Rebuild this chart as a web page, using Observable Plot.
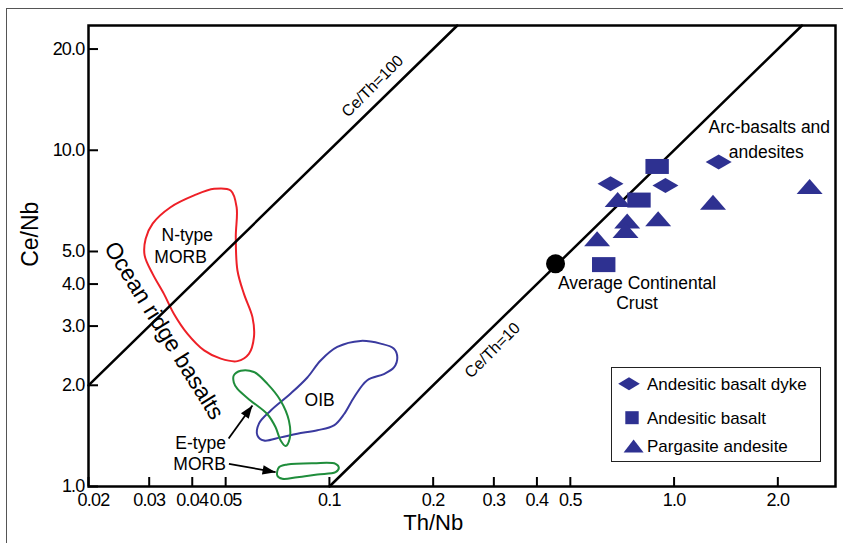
<!DOCTYPE html>
<html><head><meta charset="utf-8">
<script src="https://cdn.jsdelivr.net/npm/d3@7"></script>
<script src="https://cdn.jsdelivr.net/npm/@observablehq/plot@0.6"></script>
<style>
body{margin:0;background:#fff;}
#wrap{position:relative;width:843px;height:543px;overflow:hidden;font-family:"Liberation Sans",Arial,Helvetica,sans-serif;}
#wrap svg{display:block;}
#border{position:absolute;left:6px;top:8px;width:900px;height:600px;border:1.5px solid #555;pointer-events:none;}
#legend{position:absolute;left:611px;top:367px;width:208px;height:93px;border:1.5px solid #222;background:#fff;}
</style></head><body><div id="wrap"></div>
<script>
// ---- axis ticks ----
const xTicks = [0.02, 0.03, 0.04, 0.05, 0.1, 0.2, 0.3, 0.4, 0.5, 1, 2];
const xTickLabels = ["0.02", "0.03", "0.04", "0.05", "0.1", "0.2", "0.3", "0.4", "0.5", "1.0", "2.0"];
const yTicks = [1, 2, 3, 4, 5, 10, 20];
const yTickLabels = ["1.0", "2.0", "3.0", "4.0", "5.0", "10.0", "20.0"];
const xDomain = [0.02, 2.94];
const yDomain = [1, 23.5];

// ---- samples ----
const sampleTypes = ["Andesitic basalt dyke", "Andesitic basalt", "Pargasite andesite"];
const dykeThNb = [0.654, 0.944, 1.347];
const dykeCeNb = [7.95, 7.86, 9.22];
const basaltThNb = [0.893, 0.791, 0.625];
const basaltCeNb = [8.95, 7.11, 4.57];
const pargThNb = [0.686, 0.731, 0.723, 0.899, 0.598, 1.297, 2.473];
const pargCeNb = [7.14, 6.16, 5.77, 6.26, 5.46, 7.01, 7.80];
const crustThNb = [0.453];
const crustCeNb = [4.60];

// ---- reference fields (outlines) ----
const nMorbThNb = [0.0517, 0.0538, 0.0535, 0.0541, 0.0565, 0.0598, 0.0604, 0.0584, 0.0541, 0.0484, 0.0433, 0.0387, 0.0354, 0.0331, 0.0307, 0.0291, 0.0293, 0.0307, 0.0346, 0.0405, 0.0463];
const nMorbCeNb = [7.59, 6.77, 5.51, 4.39, 3.74, 3.19, 2.78, 2.48, 2.36, 2.40, 2.54, 2.85, 3.26, 3.74, 4.29, 4.87, 5.46, 6.05, 6.77, 7.34, 7.68];
const oibThNb = [0.1539, 0.1574, 0.1539, 0.1439, 0.1288, 0.1178, 0.1102, 0.1031, 0.0923, 0.0807, 0.0722, 0.0646, 0.0618, 0.0625, 0.0675, 0.0772, 0.0863, 0.0943, 0.1054, 0.1232, 0.1408];
const oibCeNb = [2.57, 2.42, 2.26, 2.16, 2.07, 1.84, 1.64, 1.52, 1.47, 1.435, 1.40, 1.37, 1.42, 1.54, 1.68, 1.89, 2.11, 2.37, 2.60, 2.71, 2.66];
const eMorbAThNb = [0.0528, 0.0553, 0.0604, 0.0661, 0.0722, 0.0763, 0.0767, 0.0746, 0.0722, 0.0698, 0.0661, 0.0591, 0.0541, 0.0528];
const eMorbACeNb = [2.14, 2.21, 2.19, 2.02, 1.80, 1.57, 1.39, 1.32, 1.37, 1.50, 1.64, 1.80, 1.95, 2.04];
const eMorbBThNb = [0.0714, 0.0755, 0.0902, 0.1042, 0.1065, 0.1042, 0.0923, 0.0807, 0.0730, 0.0706];
const eMorbBCeNb = [1.141, 1.163, 1.173, 1.168, 1.137, 1.103, 1.086, 1.066, 1.054, 1.078];

// ---- reference ratio lines ----
const ratioValues = [100, 10];
const ratioLabels = ["Ce/Th=100", "Ce/Th=10"];
const ratioLabelThNb = [0.1334, 0.2972];
const ratioLabelCeNb = [15.5, 2.54];

// ---- annotations ----
const noteText = ["N-type", "MORB", "OIB", "E-type", "MORB", "Arc-basalts and", "andesites", "Average Continental", "Crust"];
const noteThNb = [0.0387, 0.0370, 0.0937, 0.0423, 0.0420, 1.889, 1.852, 0.781, 0.781];
const noteCeNb = [5.58, 4.81, 1.80, 1.342, 1.167, 11.71, 9.87, 4.02, 3.50];
const ridgeText = ["Ocean ridge basalts"];
const ridgeThNb = [0.0331];
const ridgeCeNb = [2.91];
const arrowFromThNb = [0.0510, 0.0511];
const arrowFromCeNb = [1.389, 1.168];
const arrowToThNb = [0.0598, 0.0698];
const arrowToCeNb = [1.742, 1.103];

// ---- build ----
const FONT = '"Liberation Sans", Arial, Helvetica, sans-serif';
const NAVY = "#2e3191";
const zip = (xs, ys) => xs.map((x, i) => ({x, y: ys[i]}));

const wideDiamond = {draw(c) { c.moveTo(0, -7.5); c.lineTo(13, 0); c.lineTo(0, 7.5); c.lineTo(-13, 0); c.closePath(); }};
const wideSquare = {draw(c) { c.rect(-11.7, -7.5, 23.4, 15); }};
const wideTriangle = {draw(c) { c.moveTo(0, -7.5); c.lineTo(13, 7.5); c.lineTo(-13, 7.5); c.closePath(); }};
const arrowHead = {draw(c) { c.moveTo(0, 0); c.lineTo(-13, -4.8); c.lineTo(-13, 4.8); c.closePath(); }};

const M = {left: 88, right: 8, top: 25, bottom: 57};
const innerW = 843 - M.left - M.right, innerH = 543 - M.top - M.bottom;
const kx = innerW / Math.log10(xDomain[1] / xDomain[0]);
const ky = innerH / Math.log10(yDomain[1] / yDomain[0]);

const ratioLines = ratioValues.flatMap(r => {
  const x0 = Math.max(xDomain[0], yDomain[0] / r), x1 = Math.min(xDomain[1], yDomain[1] / r);
  return [{r, x: x0, y: r * x0}, {r, x: x1, y: r * x1}];
});
const ratioNotes = ratioLabels.map((t, i) => ({t, x: ratioLabelThNb[i], y: ratioLabelCeNb[i]}));
const notes = noteText.map((t, i) => ({t, x: noteThNb[i], y: noteCeNb[i]}));
const ridge = ridgeText.map((t, i) => ({t, x: ridgeThNb[i], y: ridgeCeNb[i]}));
const arrows = arrowFromThNb.map((x, i) => {
  const a = {x1: x, y1: arrowFromCeNb[i], x2: arrowToThNb[i], y2: arrowToCeNb[i]};
  a.angle = Math.atan2(-Math.log10(a.y2 / a.y1) * ky, Math.log10(a.x2 / a.x1) * kx) * 180 / Math.PI;
  return a;
});

const plot = Plot.plot({
  width: 843, height: 543,
  marginLeft: M.left, marginRight: M.right, marginTop: M.top, marginBottom: M.bottom,
  x: {type: "log", domain: xDomain},
  y: {type: "log", domain: yDomain},
  style: {fontFamily: FONT, background: "white", color: "black", overflow: "visible"},
  marks: [
    Plot.line(zip(nMorbThNb, nMorbCeNb), {x: "x", y: "y", curve: "catmull-rom-closed", stroke: "#ee2027", strokeWidth: 2}),
    Plot.line(zip(oibThNb, oibCeNb), {x: "x", y: "y", curve: "catmull-rom-closed", stroke: "#3a3a9f", strokeWidth: 2}),
    Plot.line(zip(eMorbAThNb, eMorbACeNb), {x: "x", y: "y", curve: "catmull-rom-closed", stroke: "#1f8d3b", strokeWidth: 2}),
    Plot.line(zip(eMorbBThNb, eMorbBCeNb), {x: "x", y: "y", curve: "catmull-rom-closed", stroke: "#1f8d3b", strokeWidth: 2}),
    Plot.line(ratioLines, {x: "x", y: "y", z: "r", stroke: "black", strokeWidth: 2.5}),
    Plot.text(ratioNotes, {x: "x", y: "y", text: "t", rotate: -45, fontSize: 16, fill: "black"}),
    Plot.text(notes, {x: "x", y: "y", text: "t", fontSize: 17.5, fill: "black"}),
    Plot.text(ridge, {x: "x", y: "y", text: "t", rotate: 58, fontSize: 23, fill: "black"}),
    Plot.link(arrows, {x1: "x1", y1: "y1", x2: "x2", y2: "y2", stroke: "black", strokeWidth: 1.8}),
    Plot.dot(arrows, {x: "x2", y: "y2", rotate: "angle", symbol: arrowHead, fill: "black", stroke: "none", r: 5}),
    Plot.dot(zip(pargThNb, pargCeNb), {x: "x", y: "y", symbol: wideTriangle, fill: NAVY, stroke: "none", r: 8}),
    Plot.dot(zip(basaltThNb, basaltCeNb), {x: "x", y: "y", symbol: wideSquare, fill: NAVY, stroke: "none", r: 8}),
    Plot.dot(zip(dykeThNb, dykeCeNb), {x: "x", y: "y", symbol: wideDiamond, fill: NAVY, stroke: "none", r: 8}),
    Plot.dot(zip(crustThNb, crustCeNb), {x: "x", y: "y", r: 9.5, fill: "black", stroke: "none"}),
    Plot.ruleX(xTicks, {x: d => d, insetTop: innerH - 9, stroke: "black", strokeWidth: 2}),
    Plot.ruleY(yTicks, {y: d => d, insetRight: innerW - 10, stroke: "black", strokeWidth: 2}),
    Plot.axisX({ticks: xTicks, tickSize: 0, tickPadding: 7, tickFormat: d => xTickLabels[xTicks.indexOf(d)], fontSize: 18, label: null}),
    Plot.axisY({ticks: yTicks, tickSize: 0, tickPadding: 4, tickFormat: d => yTickLabels[yTicks.indexOf(d)], fontSize: 18, label: null}),
    Plot.text(["Th/Nb"], {x: () => 0.2, frameAnchor: "bottom", dy: 43, text: d => d, fontSize: 22, fill: "black"}),
    Plot.text(["Ce/Nb"], {y: () => 4.5, frameAnchor: "left", dx: -58, rotate: -90, text: d => d, fontSize: 23, fill: "black"}),
    Plot.frame({stroke: "black", strokeWidth: 2.5})
  ]
});

const svg = d3.select(plot);
svg.selectAll('g[aria-label="x-axis tick label"] text, g[aria-label="y-axis tick label"] text').attr("letter-spacing", "-0.8px");
svg.select('g[aria-label="x-axis tick label"] text').attr("dx", 5);

const wrap = document.getElementById("wrap");
wrap.appendChild(plot);
const border = document.createElement("div"); border.id = "border"; wrap.appendChild(border);

// ---- legend ----
const legendSymbols = [
  {draw(c) { c.moveTo(0, -6.5); c.lineTo(10.8, 0); c.lineTo(0, 6.5); c.lineTo(-10.8, 0); c.closePath(); }},
  {draw(c) { c.rect(-6.7, -6.5, 13.4, 13); }},
  {draw(c) { c.moveTo(0, -6.5); c.lineTo(10, 6.5); c.lineTo(-10, 6.5); c.closePath(); }}
];
const legendDiv = document.createElement("div"); legendDiv.id = "legend"; wrap.appendChild(legendDiv);
const lsvg = d3.select(legendDiv).append("svg").attr("width", 208).attr("height", 93);
const rowY = [15.7, 49.7, 78], symX = [17, 20, 21.6];
sampleTypes.forEach((t, i) => {
  lsvg.append("path").attr("transform", `translate(${symX[i]},${rowY[i]})`)
    .attr("d", d3.symbol().type(legendSymbols[i])()).attr("fill", NAVY);
  lsvg.append("text").attr("x", 35).attr("y", rowY[i]).attr("dy", "0.36em")
    .attr("font-family", FONT).attr("font-size", 17).attr("fill", "black").text(t);
});
</script></body></html>
